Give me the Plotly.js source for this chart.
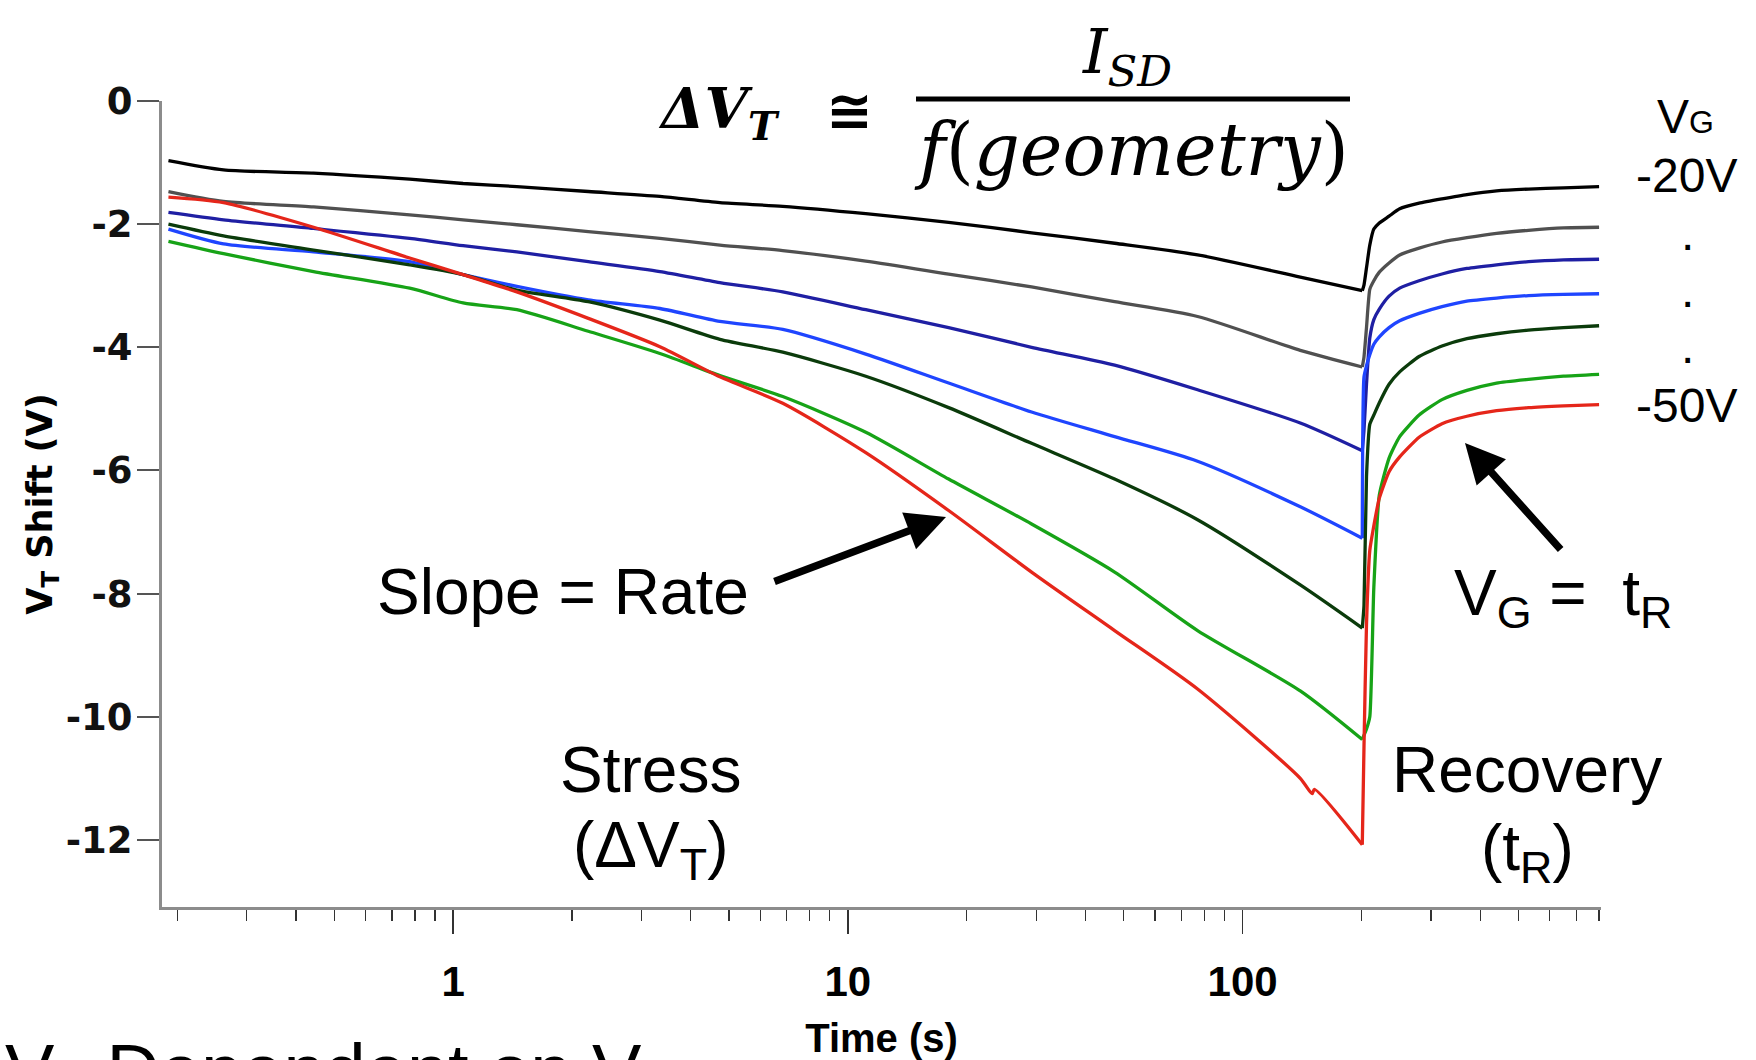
<!DOCTYPE html>
<html>
<head>
<meta charset="utf-8">
<script src="https://cdn.plot.ly/plotly-3.0.1.min.js"></script>
<style>
html,body{margin:0;padding:0;background:#ffffff;}
#chart{width:1756px;height:1060px;}
</style>
</head>
<body>
<div id="chart"></div>
<script>
// ---------------- data ----------------
const seriesNames = ['-20V', '-25V', '-30V', '-35V', '-40V', '-45V', '-50V'];
const seriesColors = ['#000000', '#505050', '#1f1fa3', '#1f45ff', '#0b3b0b', '#17a317', '#e5261a'];

// stress phase time (s)
const stressTime = [0.19, 0.262, 0.443, 0.776, 1.06, 1.45, 2.2, 3.34, 4.74, 6.84, 11.1, 18, 29.2, 47.4, 76.9, 140, 201];
const redStressTime = [0.19, 0.262, 0.443, 0.776, 1.06, 1.45, 2.2, 3.34, 4.74, 6.84, 11.1, 18, 29.2, 47.4, 76.9, 140, 150, 152, 201];
// recovery phase time (s)
const recoveryTime = [203, 206, 210, 215, 222, 235, 250, 280, 320, 370, 440, 530, 650, 800];

// VT shift (V) during stress
const stress20 = [-0.97, -1.12, -1.17, -1.27, -1.34, -1.39, -1.47, -1.55, -1.65, -1.71, -1.83, -1.97, -2.14, -2.31, -2.50, -2.86, -3.08];
const stress25 = [-1.47, -1.63, -1.72, -1.85, -1.93, -2.01, -2.12, -2.23, -2.34, -2.43, -2.60, -2.81, -3.02, -3.26, -3.50, -4.05, -4.32];
const stress30 = [-1.81, -1.93, -2.07, -2.23, -2.35, -2.45, -2.61, -2.77, -2.95, -3.10, -3.39, -3.68, -4.00, -4.29, -4.69, -5.23, -5.68];
const stress35 = [-2.08, -2.32, -2.45, -2.61, -2.82, -3.01, -3.23, -3.37, -3.58, -3.71, -4.11, -4.58, -5.05, -5.45, -5.85, -6.59, -7.10];
const stress40 = [-2.00, -2.19, -2.42, -2.66, -2.82, -3.07, -3.26, -3.56, -3.87, -4.08, -4.47, -4.98, -5.56, -6.14, -6.80, -7.86, -8.56];
const stress45 = [-2.28, -2.48, -2.77, -3.04, -3.28, -3.39, -3.74, -4.10, -4.46, -4.80, -5.38, -6.14, -6.87, -7.65, -8.60, -9.58, -10.37];
const stress50 = [-1.56, -1.65, -2.05, -2.55, -2.82, -3.10, -3.53, -3.99, -4.48, -4.91, -5.71, -6.65, -7.65, -8.60, -9.55, -11.00, -11.25, -11.18, -12.08];

// VT shift (V) during recovery
const recov20 = [-2.99, -2.71, -2.34, -2.08, -1.98, -1.87, -1.75, -1.66, -1.59, -1.52, -1.46, -1.43, -1.41, -1.39];
const recov25 = [-4.16, -3.68, -3.06, -2.92, -2.78, -2.63, -2.50, -2.39, -2.29, -2.22, -2.15, -2.10, -2.06, -2.05];
const recov30 = [-5.35, -4.60, -3.85, -3.55, -3.38, -3.17, -3.04, -2.92, -2.81, -2.72, -2.66, -2.61, -2.58, -2.57];
const recov35 = [-4.48, -4.30, -4.12, -3.95, -3.83, -3.68, -3.57, -3.45, -3.34, -3.25, -3.20, -3.16, -3.14, -3.13];
const recov40 = [-8.20, -6.10, -5.25, -5.10, -4.90, -4.60, -4.40, -4.15, -3.98, -3.86, -3.78, -3.72, -3.68, -3.65];
const recov45 = [-10.30, -10.20, -10.00, -7.90, -6.40, -5.80, -5.45, -5.10, -4.85, -4.70, -4.58, -4.52, -4.47, -4.44];
const recov50 = [-10.50, -8.50, -7.30, -6.90, -6.45, -6.02, -5.78, -5.46, -5.24, -5.12, -5.03, -4.98, -4.95, -4.93];

// axis ticks
const yTickVals = [0, -2, -4, -6, -8, -10, -12];
const yTickText = ['0', '-2', '-4', '-6', '-8', '-10', '-12'];
const xTickVals = [1, 10, 100];
const xTickText = ['1', '10', '100'];
const xMinorVals = [0.2,0.3,0.4,0.5,0.6,0.7,0.8,0.9, 2,3,4,5,6,7,8,9, 20,30,40,50,60,70,80,90, 200,300,400,500,600,700,800];

// ---------------- traces ----------------
const stressSets = [stress20, stress25, stress30, stress35, stress40, stress45, stress50];
const recovSets = [recov20, recov25, recov30, recov35, recov40, recov45, recov50];
const traces = [];
seriesNames.forEach((name, i) => {
  const st = (i === 6 ? redStressTime : stressTime);
  const sv = stressSets[i];
  traces.push({
    type: 'scatter', mode: 'lines', name: 'Stress V_G = ' + name,
    x: st, y: sv,
    line: {color: seriesColors[i], width: 3.3, shape: 'spline', smoothing: 0.7},
    showlegend: false
  });
  traces.push({
    type: 'scatter', mode: 'lines', name: 'Recovery V_G = ' + name,
    x: [st[st.length - 1]].concat(recoveryTime),
    y: [sv[sv.length - 1]].concat(recovSets[i]),
    line: {color: seriesColors[i], width: 3.3, shape: 'spline', smoothing: 0.5},
    showlegend: false
  });
});

// ---------------- layout helpers (pixel -> paper) ----------------
const W = 1756, H = 1060;
const ML = 162, MR = 155, MT = 101, MB = 153;
const PW = W - ML - MR, PH = H - MT - MB;
const P = x => (x - ML) / PW;
const Q = y => (H - MB - y) / PH;

const sans = 'Liberation Sans, Arial, Helvetica, sans-serif';
const serif = 'DejaVu Serif, Liberation Serif, serif';
const boldSans = 'Liberation Sans, Arial, sans-serif';

function txt(text, x, y, size, family, extra) {
  return Object.assign({
    text: text, x: P(x), y: Q(y), xref: 'paper', yref: 'paper',
    xanchor: 'center', yanchor: 'middle', showarrow: false,
    font: {family: family || sans, size: size, color: '#000'}
  }, extra || {});
}
function arrow(tipX, tipY, tailX, tailY) {
  return {
    text: '', x: P(tipX), y: Q(tipY), xref: 'paper', yref: 'paper',
    ax: tailX - tipX, ay: tailY - tipY, showarrow: true,
    arrowhead: 2, arrowsize: 1.05, arrowwidth: 7.5, arrowcolor: '#000', standoff: 0
  };
}

const annotations = [
  // formula
  txt('<b><i>ΔV<sub>T</sub></i></b>', 719, 112, 56, serif),
  txt('<b>≅</b>', 849, 110, 56, 'DejaVu Sans, sans-serif'),
  txt('<i>I<sub>SD</sub></i>', 1127, 55, 62, serif),
  txt('<i>f</i>(<i>geometry</i>)', 1131, 150, 72, serif),
  // right labels
  txt('V<span style="font-size:32px">G</span>', 1685, 117, 48),
  txt('-20V', 1686, 175, 48),
  txt('.', 1687, 234, 48),
  txt('.', 1687, 290, 48),
  txt('.', 1687, 346, 48),
  txt('-50V', 1686, 405, 48),
  // inside labels
  txt('Slope = Rate', 563, 592, 64),
  txt('Stress', 650, 770, 64),
  txt('(ΔV<sub>T</sub>)', 650, 849, 64),
  txt('Recovery', 1527, 770, 64),
  txt('(t<sub>R</sub>)', 1527, 852, 64),
  txt('V<sub>G</sub> = \u00a0t<sub>R</sub>', 1563, 597, 64),
  // cut-off caption at the bottom
  txt('V<sub>T</sub> Dependent on V<sub>G</sub>', 3, 1076, 74, sans, {xanchor: 'left'}),
  // arrows
  arrow(946, 517, 773, 582),
  arrow(1465, 443, 1562, 551)
];

const shapes = [
  {type: 'line', xref: 'paper', yref: 'paper', x0: P(916), x1: P(1350), y0: Q(99), y1: Q(99),
   line: {color: '#000', width: 5}}
];

const layout = {
  width: W, height: H,
  margin: {l: ML, r: MR, t: MT, b: MB, pad: 0},
  paper_bgcolor: '#ffffff', plot_bgcolor: '#ffffff',
  showlegend: false,
  xaxis: {
    type: 'log',
    range: [Math.log10(0.183), Math.log10(809)],
    tickmode: 'array', tickvals: xTickVals, ticktext: xTickText,
    ticks: 'outside', ticklen: 24, tickwidth: 1.5, tickcolor: '#333',
    minor: {tickmode: 'array', tickvals: xMinorVals, ticks: 'outside', ticklen: 11, tickwidth: 1.3, tickcolor: '#333', showgrid: false},
    showline: true, linecolor: '#8c8c8c', linewidth: 3,
    showgrid: false, zeroline: false, automargin: false,
    tickfont: {family: boldSans, size: 42, weight: 'bold', color: '#000'},
    ticklabelstandoff: 12,
    title: {text: 'Time (s)', font: {family: boldSans, size: 40, weight: 'bold', color: '#000'}, standoff: 24}
  },
  yaxis: {
    range: [-13.09, 0],
    tickmode: 'array', tickvals: yTickVals, ticktext: yTickText,
    ticks: 'outside', ticklen: 22, tickwidth: 2, tickcolor: '#555',
    showline: true, linecolor: '#8c8c8c', linewidth: 3,
    showgrid: false, zeroline: false, automargin: false,
    tickfont: {family: 'DejaVu Sans, Verdana, sans-serif', size: 37, weight: 'bold', color: '#111'},
    ticklabelstandoff: -3,
    title: {text: 'V<sub>T</sub> Shift (V)', font: {family: 'DejaVu Sans, Verdana, sans-serif', size: 35, weight: 'bold', color: '#000'}, standoff: 3}
  },
  annotations: annotations,
  shapes: shapes
};

Plotly.newPlot('chart', traces, layout, {displayModeBar: false, staticPlot: true});
</script>
</body>
</html>
